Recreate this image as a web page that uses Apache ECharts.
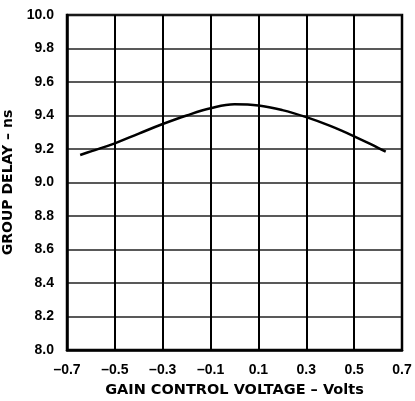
<!DOCTYPE html>
<html><head><meta charset="utf-8">
<script src="https://cdn.jsdelivr.net/npm/echarts@6/dist/echarts.min.js"></script>
<style>html,body{margin:0;padding:0;background:#fff}#c{width:415px;height:401px}</style>
</head><body><div id="c"></div>
<script>
const voltage = [-0.645, -0.6, -0.5, -0.4, -0.3, -0.2, -0.1, 0.0, 0.1, 0.2, 0.3, 0.4, 0.5, 0.6, 0.632];
const delay   = [9.164, 9.186, 9.234, 9.292, 9.349, 9.400, 9.443, 9.467, 9.460, 9.432, 9.390, 9.338, 9.276, 9.207, 9.184];
const xTicks = [-0.7, -0.5, -0.3, -0.1, 0.1, 0.3, 0.5, 0.7];
const yTicks = [8.0, 8.2, 8.4, 8.6, 8.8, 9.0, 9.2, 9.4, 9.6, 9.8, 10.0];
const xName = 'GAIN CONTROL VOLTAGE – Volts';
const yName = 'GROUP DELAY – ns';

const font = {fontFamily: '"Liberation Sans", Arial, sans-serif', fontWeight: 'bold', fontSize: 14, color: '#000'};
const nameFont = {fontFamily: '"DejaVu Sans", sans-serif', fontWeight: 'bold', fontSize: 14, color: '#000'};
const chart = echarts.init(document.getElementById('c'), null, {renderer: 'canvas'});
chart.setOption({
  animation: false,
  backgroundColor: '#fff',
  grid: {left: 67, right: 13, top: 15, bottom: 51, containLabel: false, outerBoundsMode: 'none',
         show: true, borderColor: '#000', borderWidth: 2.5, backgroundColor: 'transparent'},
  xAxis: {
    type: 'value', min: xTicks[0], max: xTicks[xTicks.length - 1], interval: 0.2,
    name: xName, nameLocation: 'middle', nameGap: 33,
    nameTextStyle: Object.assign({}, nameFont, {fontSize: 14.5}),
    axisLine: {show: true, onZero: false, lineStyle: {color: '#000', width: 2.5}},
    axisTick: {show: false},
    axisLabel: Object.assign({}, font, {margin: 13, hideOverlap: false, formatter: v => {
      const t = xTicks.find(k => Math.abs(k - v) < 1e-6);
      return t === undefined ? '' : (t < 0 ? '–' + Math.abs(t).toFixed(1) : t.toFixed(1));
    }}),
    splitLine: {show: true, lineStyle: {color: '#000', width: 2}}
  },
  yAxis: {
    type: 'value', min: yTicks[0], max: yTicks[yTicks.length - 1], interval: 0.2,
    name: yName, nameLocation: 'middle', nameGap: 43,
    nameTextStyle: nameFont,
    axisLine: {show: true, onZero: false, lineStyle: {color: '#000', width: 2.5}},
    axisTick: {show: false},
    axisLabel: Object.assign({}, font, {margin: 13, formatter: v => v.toFixed(1)}),
    splitLine: {show: true, lineStyle: {color: '#222', width: 1.5}}
  },
  series: [{
    type: 'line', smooth: 0.4, symbol: 'none',
    data: voltage.map((v, i) => [v, delay[i]]),
    lineStyle: {color: '#000', width: 2.5}
  }]
});
</script></body></html>
